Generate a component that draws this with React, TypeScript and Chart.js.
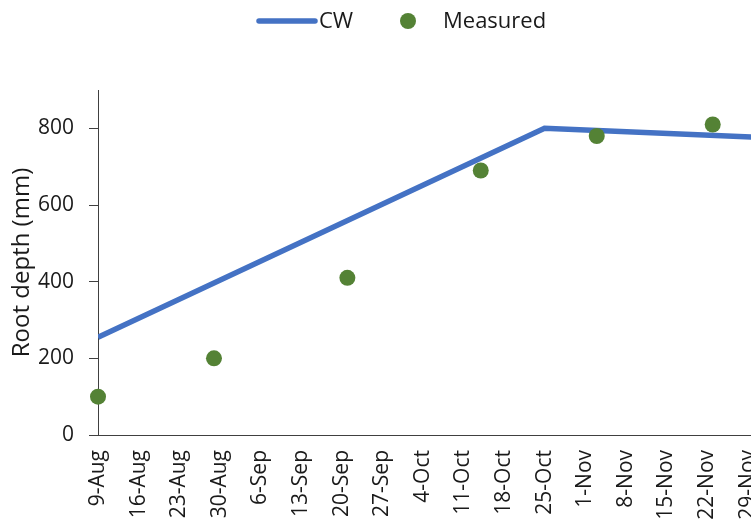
import React, { useEffect, useRef } from 'react';
import { Chart, registerables } from 'chart.js';

Chart.register(...registerables);

// ---- data ----
const weekTickLabels = [
  '9-Aug', '16-Aug', '23-Aug', '30-Aug', '6-Sep', '13-Sep', '20-Sep', '27-Sep',
  '4-Oct', '11-Oct', '18-Oct', '25-Oct', '1-Nov', '8-Nov', '15-Nov', '22-Nov', '29-Nov',
];
const cwDates = ['9-Aug', '25-Oct', '6-Dec'];
const cwValues = [255, 800, 773];
const measuredDates = ['9-Aug', '29-Aug', '21-Sep', '14-Oct', '3-Nov', '23-Nov'];
const measuredValues = [100, 200, 410, 690, 780, 810];
const seriesNames = ['CW', 'Measured'];
const yAxisTitle = 'Root depth (mm)';
const yMax = 900;
const yStep = 200;
const xMaxDays = 112.6;

const MONTHS: Record<string, number> = { Aug: 7, Sep: 8, Oct: 9, Nov: 10, Dec: 11 };
function dayOf(label: string): number {
  const [d, m] = label.split('-');
  return (Date.UTC(2019, MONTHS[m], +d) - Date.UTC(2019, 7, 9)) / 86400000;
}

const BLUE = '#4472C4';
const GREEN = '#548235';
const TEXT = '#1a1a1a';
const FONT = "'Open Sans', sans-serif";

const legendPlugin = {
  id: 'customLegend',
  afterDraw(chart: any) {
    const ctx = chart.ctx;
    ctx.save();
    const y = 21;
    ctx.strokeStyle = BLUE;
    ctx.lineWidth = 5.5;
    ctx.lineCap = 'round';
    ctx.beginPath();
    ctx.moveTo(259, y);
    ctx.lineTo(315, y);
    ctx.stroke();
    ctx.fillStyle = TEXT;
    ctx.font = `22px ${FONT}`;
    ctx.textBaseline = 'middle';
    ctx.textAlign = 'left';
    ctx.fillText(seriesNames[0], 319, y + 1);
    ctx.fillStyle = GREEN;
    ctx.beginPath();
    ctx.arc(408, y, 8, 0, Math.PI * 2);
    ctx.fill();
    ctx.fillStyle = TEXT;
    ctx.fillText(seriesNames[1], 443, y + 1);
    ctx.restore();
  },
};

export default function App() {
  const ref = useRef<HTMLCanvasElement>(null);
  useEffect(() => {
    if (!ref.current) return;
    const chart = new Chart(ref.current, {
      type: 'scatter',
      data: {
        datasets: [
          {
            label: seriesNames[0],
            data: cwDates.map((d, i) => ({ x: dayOf(d), y: cwValues[i] })),
            showLine: true,
            borderColor: BLUE,
            borderWidth: 5.5,
            pointRadius: 0,
            order: 2,
          },
          {
            label: seriesNames[1],
            data: measuredDates.map((d, i) => ({ x: dayOf(d), y: measuredValues[i] })),
            showLine: false,
            backgroundColor: GREEN,
            borderColor: GREEN,
            pointRadius: 8,
            borderWidth: 0,
            clip: false,
            order: 1,
          },
        ],
      },
      options: {
        animation: false,
        responsive: true,
        maintainAspectRatio: false,
        layout: { autoPadding: false, padding: { top: 90, left: 0, right: 0, bottom: 0 } },
        plugins: { legend: { display: false }, tooltip: { enabled: false } },
        scales: {
          x: {
            type: 'linear',
            min: 0,
            max: xMaxDays,
            grid: { display: true, drawOnChartArea: false, drawTicks: false },
            border: { display: true, color: '#404040', width: 1 },
            ticks: {
              stepSize: 7,
              includeBounds: false,
              autoSkip: false,
              minRotation: 90,
              maxRotation: 90,
              padding: 15,
              color: TEXT,
              font: { family: FONT, size: 21 },
              callback: (v: any) => weekTickLabels[Math.round(Number(v) / 7)] ?? '',
            },
            afterFit: (s: any) => {
              s.height = 86;
              s.paddingLeft = 0;
              s.paddingRight = 0;
            },
          },
          y: {
            min: 0,
            max: yMax,
            grid: { display: true, drawOnChartArea: false, drawTicks: true, tickLength: 9, color: '#404040' },
            border: { display: true, color: '#404040', width: 1 },
            ticks: {
              stepSize: yStep,
              includeBounds: false,
              padding: 15,
              color: TEXT,
              font: { family: FONT, size: 21 },
            },
            title: {
              display: true,
              text: yAxisTitle,
              color: TEXT,
              font: { family: FONT, size: 24 },
              padding: { top: 8, bottom: 0 },
            },
            afterFit: (s: any) => {
              s.width = 98;
              s.paddingTop = 0;
              s.paddingBottom = 0;
            },
          },
        },
      },
      plugins: [legendPlugin],
    });
    return () => chart.destroy();
  }, []);
  return (
    <div style={{ position: 'fixed', left: 0, top: 0, width: 751, height: 521, overflow: 'hidden', background: '#fff' }}>
      <canvas ref={ref} />
    </div>
  );
}
